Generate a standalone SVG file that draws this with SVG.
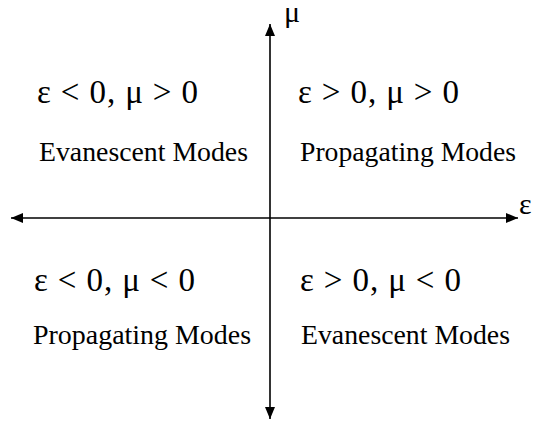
<svg xmlns="http://www.w3.org/2000/svg" width="534" height="424" viewBox="0 0 534 424">
<style>
.big{font-family:"Liberation Serif","Times New Roman",serif;font-size:33px;fill:#000}
.small{font-family:"Liberation Serif","Times New Roman",serif;font-size:28px;fill:#000}
.lab{font-family:"Liberation Serif","Times New Roman",serif;font-size:30px;fill:#000}
.axis{stroke:#000;stroke-width:1.6;fill:none}
</style>
<defs>
<marker id="ah" markerWidth="12" markerHeight="10" refX="12" refY="5" orient="auto" markerUnits="userSpaceOnUse">
<path d="M0,0 L12,5 L0,10 Z" fill="#000"/>
</marker>
</defs>
<rect width="534" height="424" fill="#fff"/>
<g id="connectors">
<line class="axis" x1="270" y1="218" x2="270" y2="24" marker-end="url(#ah)"/>
<line class="axis" x1="270" y1="218" x2="270" y2="419" marker-end="url(#ah)"/>
<line class="axis" x1="270" y1="218" x2="11" y2="218" marker-end="url(#ah)"/>
<line class="axis" x1="270" y1="218" x2="518" y2="218" marker-end="url(#ah)"/>
</g>
<g id="axis-mu"><text class="lab" x="284" y="22">μ</text></g>
<g id="axis-eps"><text class="lab" x="519" y="214">ε</text></g>
<g id="q2">
<text class="big" x="37" y="103" textLength="161" lengthAdjust="spacing">ε &lt; 0, μ &gt; 0</text>
<text class="small" x="39" y="161" textLength="209" lengthAdjust="spacingAndGlyphs">Evanescent Modes</text>
</g>
<g id="q1">
<text class="big" x="298" y="103" textLength="161" lengthAdjust="spacing">ε &gt; 0, μ &gt; 0</text>
<text class="small" x="300" y="161" textLength="216" lengthAdjust="spacingAndGlyphs">Propagating Modes</text>
</g>
<g id="q3">
<text class="big" x="34" y="291" textLength="161" lengthAdjust="spacing">ε &lt; 0, μ &lt; 0</text>
<text class="small" x="33" y="344" textLength="218" lengthAdjust="spacingAndGlyphs">Propagating Modes</text>
</g>
<g id="q4">
<text class="big" x="300" y="291" textLength="161" lengthAdjust="spacing">ε &gt; 0, μ &lt; 0</text>
<text class="small" x="301" y="344" textLength="209" lengthAdjust="spacingAndGlyphs">Evanescent Modes</text>
</g>
</svg>
